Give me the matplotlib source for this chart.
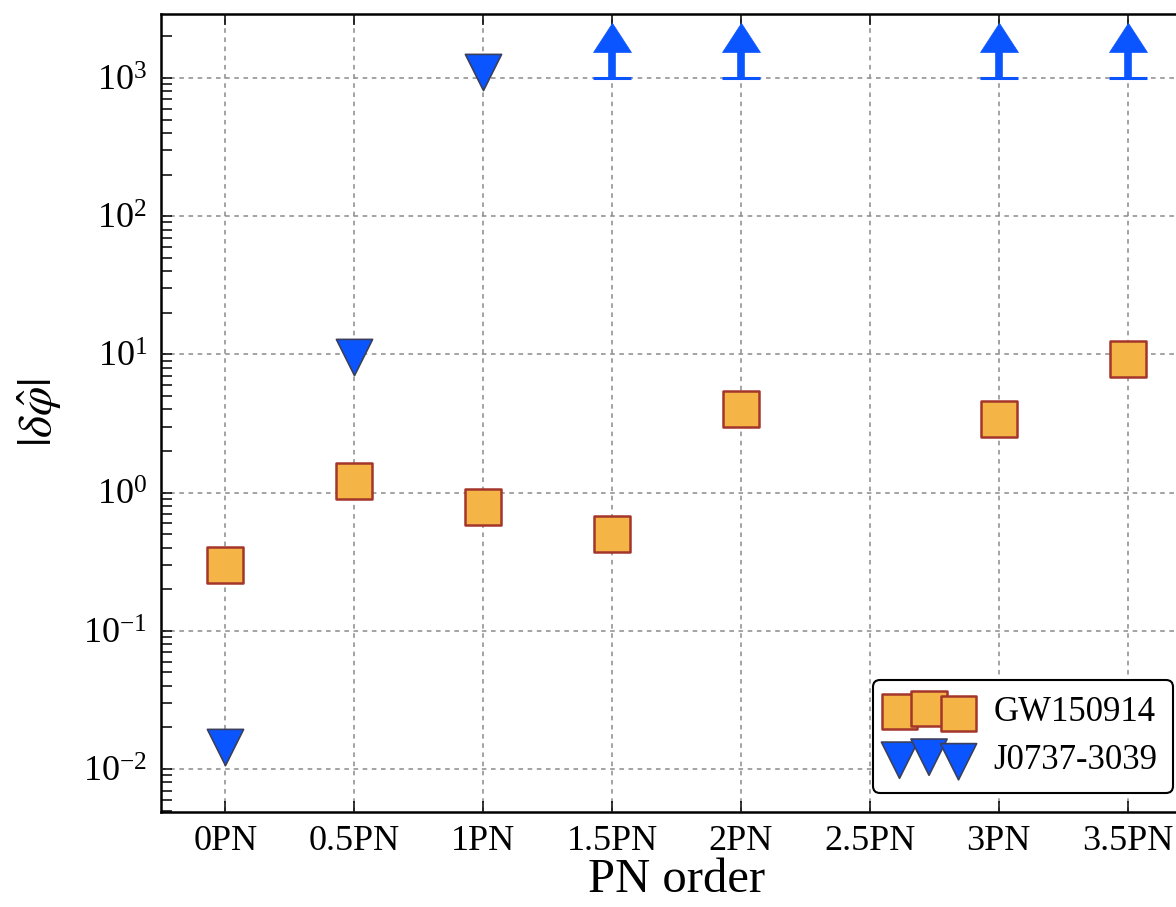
import numpy as np
import matplotlib
matplotlib.use("Agg")
import matplotlib.pyplot as plt
from matplotlib.path import Path
from matplotlib.ticker import LogLocator, NullFormatter

# ---------------- data ----------------
pn_order = [0, 0.5, 1, 1.5, 2, 2.5, 3, 3.5]
pn_labels = ['0PN', '0.5PN', '1PN', '1.5PN', '2PN', '2.5PN', '3PN', '3.5PN']

gw_x = [0, 0.5, 1, 1.5, 2, 3, 3.5]
gw_y = [0.30, 1.21, 0.79, 0.50, 4.0, 3.4, 9.3]

psr_x = [0, 0.5, 1]
psr_y = [0.0145, 9.6, 1100]

# lower limits (arrows) for the pulsar
psr_lim_x = [1.5, 2, 3, 3.5]
psr_lim_y = [1000, 1000, 1000, 1000]
psr_lim_top = [1540, 1540, 1540, 1540]

# ---------------- style ----------------
plt.rcParams['font.family'] = ['Liberation Serif', 'DejaVu Serif']
plt.rcParams['mathtext.fontset'] = 'stix'

orange = '#F5B546'
orange_edge = '#A3352B'
blue = '#0A55FF'
tri_edge = '#3A3F5A'

fig = plt.figure(figsize=(11.76, 9.07), dpi=100)
ax = fig.add_axes([0.1369, 0.1047, 0.8767, 0.8799])

ax.scatter(gw_x, gw_y, marker='s', s=640, facecolor=orange,
           edgecolor=orange_edge, linewidth=1.8, label='GW150914', zorder=3)
ax.scatter(psr_x, psr_y, marker='v', s=680, facecolor=blue,
           edgecolor=tri_edge, linewidth=1.2, label='J0737-3039', zorder=3)

# arrows (lower limits)
ax.vlines(psr_lim_x, psr_lim_y, psr_lim_top, colors=blue, linewidth=5.5, zorder=3)
ax.plot(psr_lim_x, psr_lim_y, linestyle='none', marker='_', markersize=27,
        markeredgewidth=2.2, color=blue, zorder=3)
head = Path([(-0.65, 0.0), (0.0, 1.0), (0.65, 0.0), (-0.65, 0.0)], closed=True)
ax.plot(psr_lim_x, psr_lim_top, linestyle='none', marker=head, markersize=42,
        markerfacecolor=blue, markeredgecolor=blue, markeredgewidth=0.5, zorder=3)

ax.set_yscale('log')
ax.set_ylim(0.00489, 2900)
ax.set_xlim(-0.25, 3.75)

ax.set_xticks(pn_order)
ax.set_xticklabels(pn_labels)
ax.yaxis.set_major_locator(LogLocator(base=10, numticks=20))
ax.yaxis.set_minor_locator(LogLocator(base=10, subs=np.arange(2, 10), numticks=20))
ax.yaxis.set_minor_formatter(NullFormatter())

ax.tick_params(axis='both', which='both', direction='in', top=True, right=True)
ax.tick_params(axis='both', which='major', length=8, width=1.1, labelsize=26, pad=10)
ax.tick_params(axis='x', which='major', pad=9)
ax.tick_params(axis='y', which='minor', length=8, width=1.1)
ax.tick_params(axis='x', which='minor', bottom=False, top=False)

for sp in ax.spines.values():
    sp.set_linewidth(1.8)

ax.set_axisbelow(False)
ax.grid(True, which='major', color='#8a8a8a', linestyle=(0, (3, 3)), linewidth=1.1)

ax.set_xlabel('PN order', fontsize=35, labelpad=0)
ax.set_ylabel(r'$|\delta\hat{\varphi}|$', fontsize=34, labelpad=14)

leg = ax.legend(loc='lower right', fontsize=25, frameon=True, framealpha=1,
                edgecolor='black', fancybox=True, borderaxespad=0.55,
                scatterpoints=3, scatteryoffsets=[0.375, 0.5, 0.3125],
                handlelength=2.3, handletextpad=0.7, borderpad=0.45,
                labelspacing=0.45)
leg.get_frame().set_linewidth(1.5)

fig.savefig('out.png', dpi=100)
